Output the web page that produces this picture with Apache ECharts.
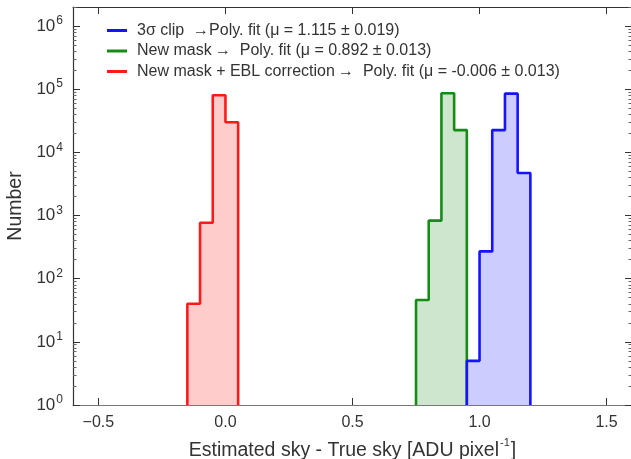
<!DOCTYPE html>
<html>
<head>
<meta charset="utf-8">
<script src="https://cdn.jsdelivr.net/npm/echarts@6/dist/echarts.min.js"></script>
<style>html,body{margin:0;padding:0;background:#fff}#c{width:631px;height:459px}</style>
</head>
<body>
<div id="c"></div>
<script>
// ---- data ----
var seriesNames = [
  'New mask + EBL correction\u2009\u2192  Poly. fit (\u03bc = -0.006 \u00b1 0.013)',
  'New mask\u2009\u2192  Poly. fit (\u03bc = 0.892 \u00b1 0.013)',
  '3\u03c3 clip  \u2192Poly. fit (\u03bc = 1.115 \u00b1 0.019)'
];
var redEdges = [-0.15, -0.10, -0.05, 0.00, 0.05];
var redCounts = [40, 770, 80000, 30000];
var greenEdges = [0.75, 0.80, 0.85, 0.90, 0.95];
var greenCounts = [46, 830, 86000, 22500];
var blueEdges = [0.95, 1.00, 1.05, 1.10, 1.15, 1.20];
var blueCounts = [5, 270, 22500, 85000, 4700];
var xTicks = [-0.5, 0.0, 0.5, 1.0, 1.5];
var yMajor = [1, 10, 100, 1000, 10000, 100000, 1000000];
var yMinorMultipliers = [2, 3, 4, 5, 6, 7, 8, 9];

// ---- build ----
function stepData(edges, counts) {
  var d = [[edges[0], 1]];
  for (var i = 0; i < counts.length; i++) {
    d.push([edges[i], counts[i]]);
    d.push([edges[i + 1], counts[i]]);
  }
  d.push([edges[edges.length - 1], 1]);
  return d;
}
var yMinor = [];
yMajor.forEach(function (m) { yMinorMultipliers.forEach(function (k) { if (m * k <= 2000000) yMinor.push(m * k); }); });

var FONT = 'Liberation Sans, Arial, sans-serif';
var TXT = '#333';
var chart = echarts.init(document.getElementById('c'));
var lineColors = ['#ff1a1a', '#168c16', '#1414ff'];
var fillColors = ['#ffcccc', '#cde6cd', '#ccccff'];
var datasets = [stepData(redEdges, redCounts), stepData(greenEdges, greenCounts), stepData(blueEdges, blueCounts)];

var series = datasets.map(function (d, i) {
  return {
    name: seriesNames[i], type: 'line', data: d, showSymbol: false, symbol: 'none',
    color: lineColors[i], animation: false, z: 2 + i,
    lineStyle: { color: lineColors[i], width: 2.6 },
    areaStyle: { color: fillColors[i], opacity: 1, origin: 'start' }
  };
});

var yLabelFmt = function (v) {
  var e = Math.round(Math.log(v) / Math.LN10);
  return '{b|10}{s|' + e + '}';
};
var xLabelFmt = function (v) { return v.toFixed(1).replace('-', '\u2212'); };

function yAx(pos, major, withName) {
  var a = {
    type: 'log', logBase: 10, min: 1, max: 2000000, position: pos,
    axisLine: { show: major, onZero: false, lineStyle: { color: '#333', width: 1.2 } },
    axisTick: { show: true, inside: true, length: major ? 7 : 3.5, customValues: major ? yMajor : yMinor,
      lineStyle: { color: major ? '#333' : '#666' } },
    axisLabel: { show: false }, splitLine: { show: false }
  };
  if (withName) {
    a.name = 'Number'; a.nameLocation = 'middle'; a.nameGap = 43;
    a.nameTextStyle = { fontFamily: FONT, fontSize: 19.5, color: TXT };
    a.axisLabel = { show: true, customValues: yMajor, formatter: yLabelFmt, margin: 10,
      rich: {
        b: { fontFamily: FONT, fontSize: 17, color: TXT },
        s: { fontFamily: FONT, fontSize: 12, color: TXT, verticalAlign: 'top', padding: [0, 0, 10, 1] }
      } };
  }
  return a;
}

var option = {
  animation: false,
  grid: { left: 73, top: 7, width: 559, height: 398, outerBoundsMode: 'none', containLabel: false },
  legend: {
    data: [seriesNames[2], seriesNames[1], seriesNames[0]],
    orient: 'vertical', left: 107, top: 22.5, padding: 0, itemWidth: 20, itemHeight: 3, itemGap: 4.5,
    icon: 'rect',
    textStyle: { fontFamily: FONT, fontSize: 16, color: TXT, padding: [0, 0, 0, 5] }
  },
  xAxis: [
    {
      type: 'value', min: -0.6, max: 1.6, position: 'bottom',
      name: '{a|Estimated sky - True sky [ADU pixel}{s|-1}{a|]}', nameLocation: 'middle', nameGap: 30,
      nameTextStyle: { fontFamily: FONT, fontSize: 19.5, color: TXT,
        rich: {
          a: { fontFamily: FONT, fontSize: 19.5, color: TXT, lineHeight: 30, verticalAlign: 'middle' },
          s: { fontFamily: FONT, fontSize: 11, color: TXT, lineHeight: 11, verticalAlign: 'top', padding: [2, 1, 0, 1] }
        } },
      axisLine: { show: true, onZero: false, lineStyle: { color: '#777', width: 1.2 } },
      axisTick: { show: true, inside: true, length: 7, customValues: xTicks, lineStyle: { color: '#333' } },
      axisLabel: { customValues: xTicks, formatter: xLabelFmt, fontFamily: FONT, fontSize: 16, color: TXT, margin: 10 },
      splitLine: { show: false }
    },
    {
      type: 'value', min: -0.6, max: 1.6, position: 'top',
      axisLine: { show: true, onZero: false, lineStyle: { color: '#333', width: 1.2 } },
      axisTick: { show: true, inside: true, length: 7, customValues: xTicks, lineStyle: { color: '#333' } },
      axisLabel: { show: false }, splitLine: { show: false }
    }
  ],
  yAxis: [yAx('left', true, true), yAx('left', false, false), yAx('right', true, false), yAx('right', false, false)],
  series: series
};
chart.setOption(option);
</script>
</body>
</html>
